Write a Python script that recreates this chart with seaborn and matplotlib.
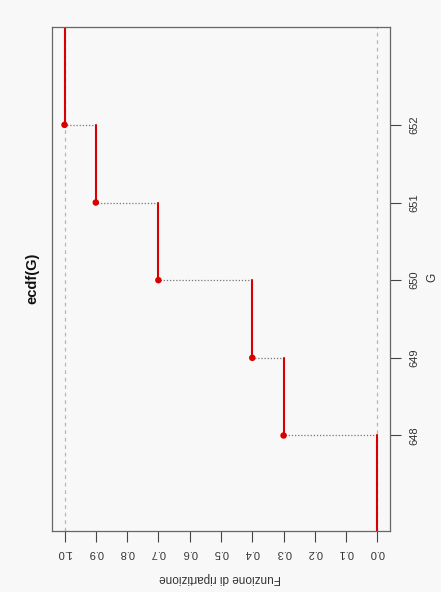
import matplotlib
matplotlib.use("Agg")
import matplotlib.pyplot as plt
import seaborn as sns
import pandas as pd
import numpy as np

# Data (ecdf of G)
G_values = [648, 649, 650, 651, 652]
F_values = [0.3, 0.4, 0.7, 0.9, 1.0]
F_ticks = [0.0, 0.1, 0.2, 0.3, 0.4, 0.5, 0.6, 0.7, 0.8, 0.9, 1.0]
G_ticks = [648, 649, 650, 651, 652]
title_text = "ecdf(G)"
xlabel_text = "Funzione di ripartizione"
ylabel_text = "G"

G_lim = (646.77, 653.26)
F_lim = (1.04, -0.04)

sns.set_theme(style="white")
plt.rcParams['font.family'] = ['Liberation Sans', 'DejaVu Sans']

bg = "#f8f8f8"
fig = plt.figure(figsize=(4.41, 5.92), dpi=100, facecolor=bg)
ax = fig.add_axes([52/441, 1-531/592, (390-52)/441, (531-27)/592])
ax.set_facecolor(bg)

# horizontal (in data) step segments
levels = [0.0] + F_values
starts = [G_lim[0]] + G_values
ends = G_values + [G_lim[1]]
rows = []
for i, (f, s, e) in enumerate(zip(levels, starts, ends)):
    rows.append({"F": f, "G": s, "seg": i})
    rows.append({"F": f, "G": e, "seg": i})
seg_df = pd.DataFrame(rows)

# jump (dotted) segments
jrows = []
for i, (g, f0, f1) in enumerate(zip(G_values, levels[:-1], F_values)):
    jrows.append({"F": f0, "G": g, "seg": i})
    jrows.append({"F": f1, "G": g, "seg": i})
jump_df = pd.DataFrame(jrows)

# reference lines at 0 and 1
rrows = []
for i, f in enumerate([0.0, 1.0]):
    rrows.append({"F": f, "G": G_lim[0], "seg": i})
    rrows.append({"F": f, "G": G_lim[1], "seg": i})
ref_df = pd.DataFrame(rrows)

sns.lineplot(data=ref_df, x="F", y="G", units="seg", estimator=None, sort=False,
             color="#b8b8b8", linestyle=(0, (3, 3)), linewidth=0.9, ax=ax, legend=False)
sns.lineplot(data=jump_df, x="F", y="G", units="seg", estimator=None, sort=False,
             color="#777777", linestyle=(0, (1, 1.5)), linewidth=0.9, ax=ax, legend=False)
sns.lineplot(data=seg_df, x="F", y="G", units="seg", estimator=None, sort=False,
             color="#d80000", linewidth=1.5, ax=ax, legend=False)
pts = pd.DataFrame({"F": F_values, "G": G_values})
sns.scatterplot(data=pts, x="F", y="G", color="#d80000", s=22, edgecolor="none",
                ax=ax, legend=False, zorder=5)

ax.set_xlim(*F_lim)
ax.set_ylim(*G_lim)

ax.set_xticks(F_ticks)
ax.set_xticklabels([f"{v:.1f}" for v in F_ticks], rotation=180, fontsize=8, color="#333333")
ax.set_yticks(G_ticks)
ax.yaxis.tick_right()
ax.set_yticklabels([str(v) for v in G_ticks], rotation=90, fontsize=8, color="#333333",
                   va="center")
ax.tick_params(axis="x", bottom=True, length=8, width=0.8, color="#444444", pad=4)
ax.tick_params(axis="y", right=True, left=False, length=8, width=0.8, color="#444444", pad=6)

ax.set_xlabel("")
ax.set_ylabel("")
for sp in ax.spines.values():
    sp.set_color("#666666")
    sp.set_linewidth(0.9)

fig.text(220/441, 1-578/592, xlabel_text, rotation=180, ha="center", va="center",
         fontsize=8.5, color="#333333")
fig.text(432/441, 1-277/592, ylabel_text, rotation=90, ha="center", va="center",
         fontsize=8.5, color="#333333")
fig.text(32/441, 1-278/592, title_text, rotation=90, ha="center", va="center",
         fontsize=10.5, fontweight="bold", color="#111111")

fig.savefig("out.png", dpi=100, facecolor=bg)
